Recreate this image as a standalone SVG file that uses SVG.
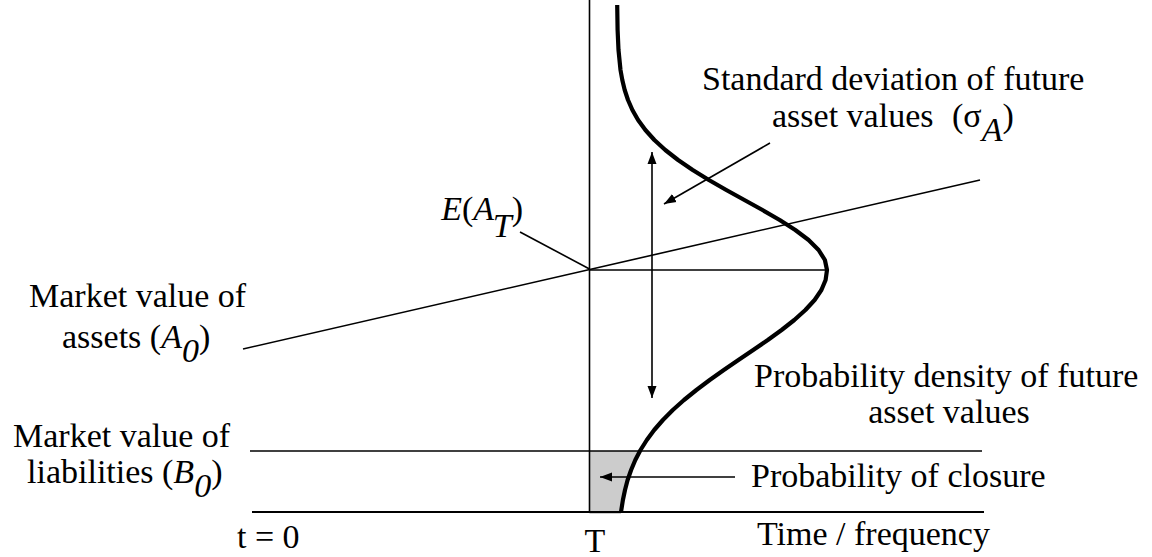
<svg xmlns="http://www.w3.org/2000/svg" width="1152" height="557" viewBox="0 0 1152 557">
<style>
text{font-family:"Liberation Serif","Times New Roman",serif;font-size:34px;fill:#000}
.i{font-style:italic}
.ln{stroke:#000;stroke-width:1.6;fill:none}
.ax{stroke:#000;stroke-width:2.2;fill:none}
</style>
<defs>
<marker id="ah" viewBox="0 0 12 10" refX="12" refY="5" markerWidth="12" markerHeight="10" markerUnits="userSpaceOnUse" orient="auto-start-reverse">
<path d="M0,0.5 L12,5 L0,9.5 Z" fill="#000"/>
</marker>
</defs>
<rect width="1152" height="557" fill="#fff"/>
<g id="shade">
<path d="M589.5,451 L640.3,451 L635.3,460 L631.1,470 L627.6,480 L625,490 L622.9,500 L621,512 L621,514 L589.5,514 Z" fill="#cccccc"/>
</g>
<g id="connectors">
<line class="ln" x1="589.5" y1="0" x2="589.5" y2="512"/>
<line class="ax" x1="252" y1="512" x2="984" y2="512"/>
<line class="ln" x1="250" y1="451" x2="982" y2="451"/>
<line class="ln" x1="243" y1="349" x2="980" y2="180"/>
<line class="ln" x1="589.5" y1="270" x2="827" y2="270"/>
<line class="ln" x1="520" y1="232" x2="589.5" y2="269"/>
<line class="ln" x1="652" y1="152" x2="652" y2="398" marker-start="url(#ah)" marker-end="url(#ah)"/>
<line class="ln" x1="770" y1="143" x2="664" y2="204" marker-end="url(#ah)"/>
<line class="ln" x1="735" y1="477" x2="600" y2="477" marker-end="url(#ah)"/>
</g>
<g id="density-curve">
<polyline fill="none" stroke="#000" stroke-width="4.2" stroke-linejoin="round" points="617.2,5 617.6,30 618.5,50 620.5,70 622.3,80 624.7,90 628,100 632.4,110 638.1,120 645.4,130 654.4,140 665.3,150 678.1,160 692.7,170 708.9,180 726.3,190 744.4,200 762.5,210 779.7,220 795.3,230 808.6,240 818.6,250 824.9,260 827,270 825.6,280 821.4,290 814.6,300 805.4,310 794.3,320 781.6,330 767.8,340 753.2,350 738.4,360 723.8,370 709.7,380 696.4,390 684,400 672.8,410 662.9,420 654.2,430 646.8,440 640.5,450 635.3,460 631.1,470 627.6,480 625,490 622.9,500 621,512"/>
</g>
<g id="label-sigma">
<text x="702" y="90">Standard deviation of future</text>
<text x="772" y="127">asset values <tspan x="952">(σ</tspan><tspan class="i" dy="14">A</tspan><tspan dy="-14">)</tspan></text>
</g>
<g id="label-expected">
<text x="523" y="220" text-anchor="end"><tspan class="i">E</tspan>(<tspan class="i">A</tspan><tspan class="i" dy="17">T</tspan><tspan dy="-17">)</tspan></text>
</g>
<g id="label-assets">
<text x="29" y="307">Market value of</text>
<text x="62" y="348">assets (<tspan class="i">A</tspan><tspan class="i" dy="14">0</tspan><tspan dy="-14">)</tspan></text>
</g>
<g id="label-liabilities">
<text x="13" y="447">Market value of</text>
<text x="27" y="483">liabilities (<tspan class="i">B</tspan><tspan class="i" dy="14">0</tspan><tspan dy="-14">)</tspan></text>
</g>
<g id="label-density">
<text x="754" y="387">Probability density of future</text>
<text x="949" y="423" text-anchor="middle">asset values</text>
</g>
<g id="label-closure">
<text x="751" y="487">Probability of closure</text>
</g>
<g id="axis-labels">
<text x="237" y="548">t = 0</text>
<text x="595" y="552" text-anchor="middle">T</text>
<text x="757" y="545">Time / frequency</text>
</g>
</svg>
